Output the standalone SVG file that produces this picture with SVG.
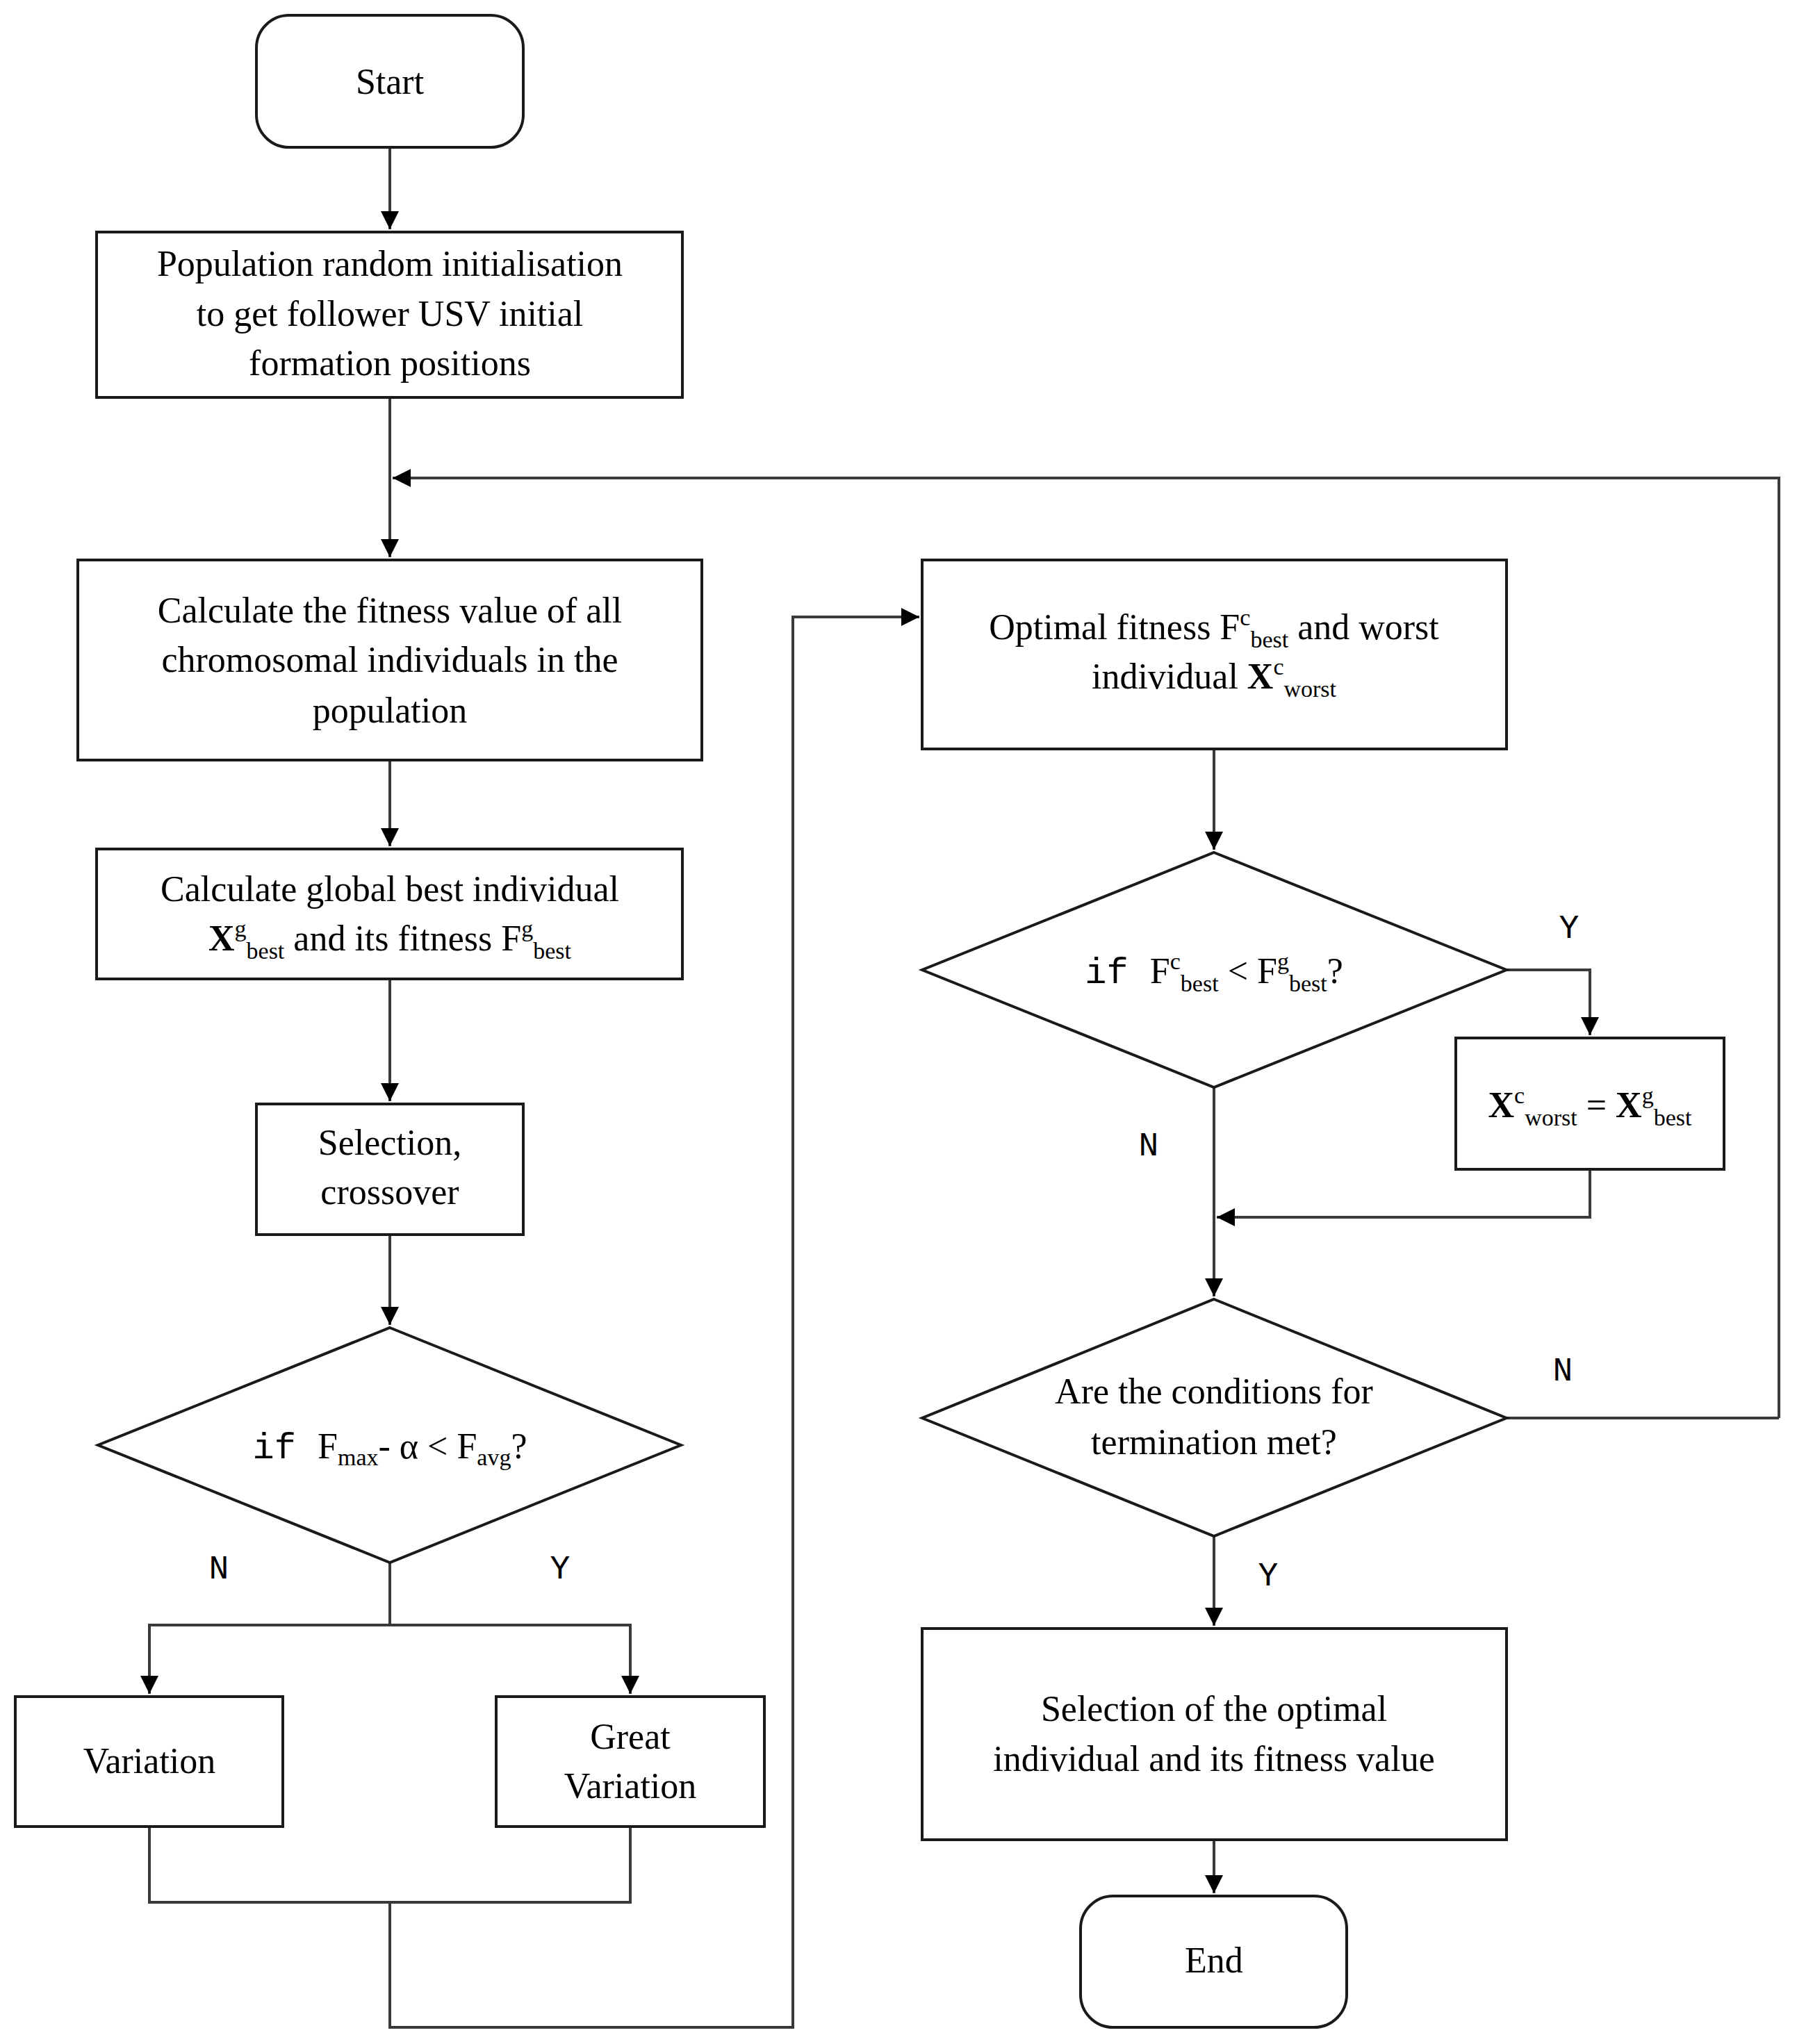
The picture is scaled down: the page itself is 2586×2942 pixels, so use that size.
<svg xmlns="http://www.w3.org/2000/svg" width="2586" height="2942" viewBox="0 0 2586 2942">
<style>
.n{fill:#fff;stroke:#1a1a1a;stroke-width:4}
.t{font-family:"Liberation Serif",serif;font-size:52px;fill:#000;text-anchor:middle}
.m{font-family:"Liberation Mono",monospace;font-size:48px;fill:#000;text-anchor:middle}
.c{fill:none;stroke:#3a3a3a;stroke-width:4}
.s{font-size:34px}
.b{font-weight:bold}
</style>
<defs>
<marker id="a" markerUnits="userSpaceOnUse" markerWidth="26" markerHeight="26" refX="26" refY="13" orient="auto"><path d="M0,0 L26,13 L0,26 Z" fill="#000"/></marker>
</defs>
<rect width="2586" height="2942" fill="#fff"/>
<g id="connectors">
<path class="c" d="M561,212 V330" marker-end="url(#a)"/>
<path class="c" d="M561,572 V802" marker-end="url(#a)"/>
<path class="c" d="M2560,2041 V688 H565" marker-end="url(#a)"/>
<path class="c" d="M561,1094 V1218" marker-end="url(#a)"/>
<path class="c" d="M561,1409 V1585" marker-end="url(#a)"/>
<path class="c" d="M561,1777 V1907" marker-end="url(#a)"/>
<path class="c" d="M561,2249 V2339 H215 V2438" marker-end="url(#a)"/>
<path class="c" d="M561,2339 H907 V2438" marker-end="url(#a)"/>
<path class="c" d="M215,2629 V2738 H907 V2629"/>
<path class="c" d="M561,2738 V2918 H1141 V888 H1323" marker-end="url(#a)"/>
<path class="c" d="M1747,1078 V1223" marker-end="url(#a)"/>
<path class="c" d="M2168,1396 H2288 V1490" marker-end="url(#a)"/>
<path class="c" d="M2288,1683 V1752 H1751" marker-end="url(#a)"/>
<path class="c" d="M1747,1565 V1866" marker-end="url(#a)"/>
<path class="c" d="M2168,2041 H2560"/>
<path class="c" d="M1747,2211 V2340" marker-end="url(#a)"/>
<path class="c" d="M1747,2648 V2725" marker-end="url(#a)"/>
<text class="m" x="315" y="2272">N</text>
<text class="m" x="806" y="2272">Y</text>
<text class="m" x="2258" y="1350">Y</text>
<text class="m" x="1653" y="1663">N</text>
<text class="m" x="2249" y="1987">N</text>
<text class="m" x="1825" y="2282">Y</text>
</g>
<g id="start"><rect class="n" x="369" y="22" width="384" height="190" rx="47"/><text class="t" x="561" y="135">Start</text></g>
<g id="init"><rect class="n" x="139" y="334" width="843" height="238"/>
<text class="t" x="561" y="397">Population random initialisation</text>
<text class="t" x="561" y="469">to get follower USV initial</text>
<text class="t" x="561" y="540">formation positions</text></g>
<g id="fitness"><rect class="n" x="112" y="806" width="898" height="288"/>
<text class="t" x="561" y="896">Calculate the fitness value of all</text>
<text class="t" x="561" y="967">chromosomal individuals in the</text>
<text class="t" x="561" y="1040">population</text></g>
<g id="global"><rect class="n" x="139" y="1222" width="843" height="187"/>
<text class="t" x="561" y="1297">Calculate global best individual</text>
<text class="t" x="561" y="1368"><tspan class="b">X</tspan><tspan class="s" dy="-20">g</tspan><tspan class="s" dy="32">best</tspan><tspan dy="-12"> and its fitness F</tspan><tspan class="s" dy="-20">g</tspan><tspan class="s" dy="32">best</tspan></text></g>
<g id="selection"><rect class="n" x="369" y="1589" width="384" height="188"/>
<text class="t" x="561" y="1662">Selection,</text>
<text class="t" x="561" y="1733">crossover</text></g>
<g id="decision1"><polygon class="n" points="561,1911 980,2080 561,2249 141,2080"/>
<text class="t" x="561" y="2099"><tspan font-family="Liberation Mono,monospace">if </tspan>F<tspan class="s" dy="10">max</tspan><tspan dy="-10">- α &lt; F</tspan><tspan class="s" dy="10">avg</tspan><tspan dy="-10">?</tspan></text></g>
<g id="variation"><rect class="n" x="22" y="2442" width="385" height="187"/><text class="t" x="215" y="2552">Variation</text></g>
<g id="great"><rect class="n" x="714" y="2442" width="386" height="187"/>
<text class="t" x="907" y="2517">Great</text><text class="t" x="907" y="2588">Variation</text></g>
<g id="optimal"><rect class="n" x="1327" y="806" width="841" height="272"/>
<text class="t" x="1747" y="920">Optimal fitness F<tspan class="s" dy="-20">c</tspan><tspan class="s" dy="32">best</tspan><tspan dy="-12"> and worst</tspan></text>
<text class="t" x="1747" y="991">individual <tspan class="b">X</tspan><tspan class="s" dy="-20">c</tspan><tspan class="s" dy="32">worst</tspan></text></g>
<g id="decision2"><polygon class="n" points="1747,1227 2168,1396 1747,1565 1327,1396"/>
<text class="t" x="1747" y="1415"><tspan font-family="Liberation Mono,monospace">if  </tspan>F<tspan class="s" dy="-20">c</tspan><tspan class="s" dy="32">best</tspan><tspan dy="-12"> &lt; F</tspan><tspan class="s" dy="-20">g</tspan><tspan class="s" dy="32">best</tspan><tspan dy="-12">?</tspan></text></g>
<g id="replace"><rect class="n" x="2095" y="1494" width="386" height="189"/>
<text class="t" x="2288" y="1608"><tspan class="b">X</tspan><tspan class="s" dy="-20">c</tspan><tspan class="s" dy="32">worst</tspan><tspan dy="-12"> = </tspan><tspan class="b">X</tspan><tspan class="s" dy="-20">g</tspan><tspan class="s" dy="32">best</tspan></text></g>
<g id="decision3"><polygon class="n" points="1747,1870 2168,2041 1747,2211 1327,2041"/>
<text class="t" x="1747" y="2020">Are the conditions for</text>
<text class="t" x="1747" y="2093">termination met?</text></g>
<g id="selectopt"><rect class="n" x="1327" y="2344" width="841" height="304"/>
<text class="t" x="1747" y="2477">Selection of the optimal</text>
<text class="t" x="1747" y="2549">individual and its fitness value</text></g>
<g id="end"><rect class="n" x="1555" y="2729" width="383" height="189" rx="47"/><text class="t" x="1747" y="2839">End</text></g>
</svg>
